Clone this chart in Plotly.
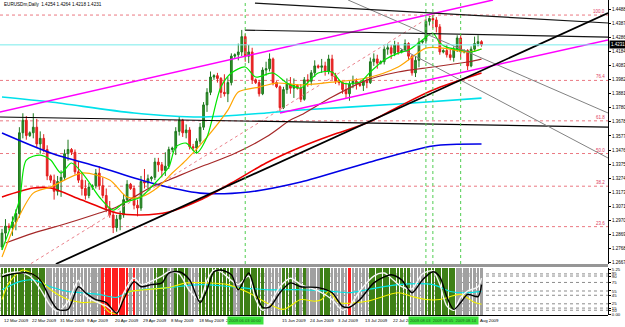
import plotly.graph_objects as go

# ---------------- data ----------------
bar_idx = list(range(139))

open_p = [1.2780, 1.2880, 1.2930, 1.2920, 1.2960, 1.3020, 1.3600, 1.3690, 1.3580, 1.3600,
          1.3640, 1.3520, 1.3560, 1.3480, 1.3290, 1.3260, 1.3180, 1.3250, 1.3280, 1.3450,
          1.3480, 1.3460, 1.3320, 1.3260, 1.3200, 1.3150, 1.3210, 1.3220, 1.3310, 1.3220,
          1.3150, 1.3060, 1.3010, 1.2920, 1.2980, 1.3010, 1.3120, 1.3230, 1.3200, 1.3080,
          1.3060, 1.3250, 1.3240, 1.3270, 1.3280, 1.3390, 1.3370, 1.3330, 1.3360, 1.3480,
          1.3490, 1.3610, 1.3690, 1.3600, 1.3620, 1.3500, 1.3490, 1.3540, 1.3640, 1.3800,
          1.3890, 1.4000, 1.4010, 1.3990, 1.3890, 1.3880, 1.3960, 1.4150, 1.4160, 1.4180,
          1.4290, 1.4150, 1.4180, 1.3980, 1.3960, 1.3880, 1.4050, 1.4060, 1.4130, 1.3960,
          1.3930, 1.3780, 1.3910, 1.3950, 1.3920, 1.3940, 1.3920, 1.3840, 1.3980, 1.3970,
          1.4030, 1.4080, 1.4070, 1.4080, 1.4040, 1.4130, 1.4010, 1.3970, 1.3960, 1.3910,
          1.3880, 1.3950, 1.3970, 1.3950, 1.3940, 1.3970, 1.3960, 1.4110, 1.4130, 1.4100,
          1.4110, 1.4200, 1.4210, 1.4170, 1.4230, 1.4180, 1.4190, 1.4240, 1.4150, 1.4030,
          1.4120, 1.4250, 1.4260, 1.4400, 1.4420, 1.4410, 1.4360, 1.4180, 1.4190, 1.4160,
          1.4140, 1.4200, 1.4280, 1.4180, 1.4190, 1.4080, 1.4200, 1.4240, 1.4254]
high_p = [1.2910, 1.2980, 1.2950, 1.3000, 1.3050, 1.3640, 1.3740, 1.3720, 1.3610, 1.3740,
          1.3700, 1.3610, 1.3590, 1.3510, 1.3300, 1.3300, 1.3290, 1.3330, 1.3480, 1.3550,
          1.3490, 1.3480, 1.3390, 1.3320, 1.3260, 1.3240, 1.3230, 1.3340, 1.3360, 1.3280,
          1.3200, 1.3110, 1.3030, 1.3010, 1.3040, 1.3160, 1.3260, 1.3240, 1.3220, 1.3120,
          1.3290, 1.3340, 1.3300, 1.3290, 1.3420, 1.3420, 1.3390, 1.3460, 1.3500, 1.3500,
          1.3640, 1.3720, 1.3700, 1.3660, 1.3640, 1.3520, 1.3560, 1.3670, 1.3820, 1.3920,
          1.4040, 1.4020, 1.4030, 1.4000, 1.4020, 1.4000, 1.4170, 1.4170, 1.4240, 1.4338,
          1.4310, 1.4230, 1.4210, 1.3990, 1.3980, 1.4070, 1.4110, 1.4170, 1.4140, 1.3970,
          1.3940, 1.3930, 1.3990, 1.4000, 1.3990, 1.3950, 1.3950, 1.4000, 1.4020, 1.4050,
          1.4120, 1.4090, 1.4130, 1.4110, 1.4160, 1.4160, 1.4030, 1.3980, 1.3970, 1.3960,
          1.3970, 1.4010, 1.3990, 1.3960, 1.3990, 1.4000, 1.4140, 1.4170, 1.4160, 1.4120,
          1.4220, 1.4240, 1.4230, 1.4260, 1.4250, 1.4200, 1.4270, 1.4250, 1.4160, 1.4150,
          1.4280, 1.4270, 1.4420, 1.4440, 1.4445, 1.4430, 1.4380, 1.4200, 1.4230, 1.4200,
          1.4220, 1.4300, 1.4300, 1.4200, 1.4200, 1.4220, 1.4290, 1.4300, 1.4264]
low_p = [1.2760, 1.2830, 1.2900, 1.2860, 1.2900, 1.2990, 1.3560, 1.3550, 1.3570, 1.3560,
         1.3490, 1.3450, 1.3460, 1.3260, 1.3240, 1.3120, 1.3150, 1.3140, 1.3260, 1.3400,
         1.3440, 1.3300, 1.3240, 1.3150, 1.3120, 1.3130, 1.3190, 1.3200, 1.3190, 1.3130,
         1.3030, 1.2990, 1.2880, 1.2890, 1.2900, 1.2990, 1.3100, 1.3190, 1.3050, 1.3000,
         1.3040, 1.3200, 1.3200, 1.3250, 1.3260, 1.3320, 1.3280, 1.3290, 1.3340, 1.3460,
         1.3440, 1.3580, 1.3570, 1.3560, 1.3480, 1.3470, 1.3450, 1.3520, 1.3620, 1.3750,
         1.3870, 1.3980, 1.3960, 1.3850, 1.3860, 1.3820, 1.3940, 1.4130, 1.4120, 1.4150,
         1.4110, 1.4100, 1.3950, 1.3950, 1.3860, 1.3870, 1.4010, 1.4040, 1.3940, 1.3920,
         1.3750, 1.3770, 1.3880, 1.3880, 1.3850, 1.3910, 1.3820, 1.3830, 1.3930, 1.3940,
         1.4000, 1.4060, 1.4030, 1.4010, 1.4020, 1.3980, 1.3950, 1.3940, 1.3880, 1.3850,
         1.3830, 1.3920, 1.3910, 1.3930, 1.3900, 1.3920, 1.3950, 1.4080, 1.4060, 1.4090,
         1.4090, 1.4160, 1.4130, 1.4150, 1.4160, 1.4170, 1.4180, 1.4120, 1.4010, 1.4000,
         1.4070, 1.4240, 1.4240, 1.4370, 1.4350, 1.4320, 1.4160, 1.4170, 1.4140, 1.4120,
         1.4110, 1.4180, 1.4130, 1.4170, 1.4050, 1.4070, 1.4180, 1.4220, 1.4218]
close_p = [1.2880, 1.2930, 1.2920, 1.2960, 1.3020, 1.3600, 1.3690, 1.3580, 1.3600, 1.3640,
           1.3520, 1.3560, 1.3480, 1.3290, 1.3260, 1.3180, 1.3250, 1.3280, 1.3450, 1.3480,
           1.3460, 1.3320, 1.3260, 1.3200, 1.3150, 1.3210, 1.3220, 1.3310, 1.3220, 1.3150,
           1.3060, 1.3010, 1.2920, 1.2980, 1.3010, 1.3120, 1.3230, 1.3200, 1.3080, 1.3060,
           1.3250, 1.3240, 1.3270, 1.3280, 1.3390, 1.3370, 1.3330, 1.3360, 1.3480, 1.3490,
           1.3610, 1.3690, 1.3600, 1.3620, 1.3500, 1.3490, 1.3540, 1.3640, 1.3800, 1.3890,
           1.4000, 1.4010, 1.3990, 1.3890, 1.3880, 1.3960, 1.4150, 1.4160, 1.4180, 1.4290,
           1.4150, 1.4180, 1.3980, 1.3960, 1.3880, 1.4050, 1.4060, 1.4130, 1.3960, 1.3930,
           1.3780, 1.3910, 1.3950, 1.3920, 1.3940, 1.3920, 1.3840, 1.3980, 1.3970, 1.4030,
           1.4080, 1.4070, 1.4080, 1.4040, 1.4130, 1.4010, 1.3970, 1.3960, 1.3910, 1.3880,
           1.3950, 1.3970, 1.3950, 1.3940, 1.3970, 1.3960, 1.4110, 1.4130, 1.4100, 1.4110,
           1.4200, 1.4210, 1.4170, 1.4230, 1.4180, 1.4190, 1.4240, 1.4150, 1.4030, 1.4120,
           1.4250, 1.4260, 1.4400, 1.4420, 1.4410, 1.4360, 1.4180, 1.4190, 1.4160, 1.4140,
           1.4200, 1.4280, 1.4180, 1.4190, 1.4080, 1.4200, 1.4240, 1.4254, 1.4231]

# moving averages (sampled along the curves)
ma_green_idx = [0, 5, 7, 11, 14, 17, 20, 24, 28, 32, 35, 40, 43, 48, 50, 53, 56, 59, 63, 66,
                70, 73, 78, 82, 86, 91, 95, 98, 103, 106, 110, 114, 117, 121, 124, 126, 128, 132, 135, 138]
ma_green_val = [1.2758, 1.3117, 1.3404, 1.3440, 1.3404, 1.3311, 1.3383, 1.3282, 1.3139, 1.3045,
                1.3096, 1.3139, 1.3211, 1.3354, 1.3498, 1.3526, 1.3455, 1.3569, 1.3928, 1.4029,
                1.4072, 1.4000, 1.4029, 1.3957, 1.3921, 1.4029, 1.4036, 1.3957, 1.3964, 1.4036,
                1.4122, 1.4172, 1.4194, 1.4266, 1.4316, 1.4244, 1.4215, 1.4194, 1.4179, 1.4201]
ma_orange_idx = [0, 4, 9, 14, 23, 31, 36, 40, 45, 49, 53, 59, 65, 68, 74, 79, 86, 95, 105, 114, 122, 127, 134, 138]
ma_orange_val = [1.2708, 1.2952, 1.3167, 1.3211, 1.3311, 1.3261, 1.3139, 1.3139, 1.3211, 1.3311,
                 1.3404, 1.3569, 1.3763, 1.3892, 1.3928, 1.3957, 1.3943, 1.3964, 1.3993, 1.4072,
                 1.4208, 1.4208, 1.4179, 1.4201]
ma_brown_idx = [1, 9, 19, 28, 33, 43, 48, 57, 66, 76, 83, 86, 95, 105, 114, 124, 134, 138]
ma_brown_val = [1.2809, 1.2880, 1.2952, 1.3024, 1.3067, 1.3211, 1.3261, 1.3354, 1.3440, 1.3569,
                1.3691, 1.3727, 1.3857, 1.3978, 1.4036, 1.4072, 1.4108, 1.4129]
ma_red_idx = [0, 9, 14, 23, 33, 40, 48, 57, 66, 76, 86, 95, 105, 114, 124, 138]
ma_red_val = [1.3139, 1.3203, 1.3203, 1.3117, 1.3024, 1.3010, 1.3031, 1.3117, 1.3239, 1.3383,
              1.3498, 1.3584, 1.3670, 1.3785, 1.3907, 1.4029]
ma_blue_idx = [0, 14, 28, 43, 57, 71, 86, 105, 124, 138]
ma_blue_val = [1.3598, 1.3455, 1.3354, 1.3239, 1.3167, 1.3175, 1.3246, 1.3383, 1.3505, 1.3519]
ma_cyan_idx = [0, 14, 38, 57, 76, 86, 114, 138]
ma_cyan_val = [1.3857, 1.3821, 1.3742, 1.3713, 1.3742, 1.3763, 1.3806, 1.3849]

# hand-drawn trend lines: (bar0, price0, bar1, price1)
trend_top = (72.8, 1.4531, 174.4, 1.4388)
trend_mid = (69.9, 1.4337, 174.4, 1.4287)
trend_support = (15.5, 1.2658, 174.4, 1.4459)
trend_gray1 = (99.6, 1.4553, 174.4, 1.3742)
trend_gray2 = (114.5, 1.4208, 174.4, 1.3419)
chan_upper = (-0.6, 1.3749, 141.3, 1.4553)
chan_lower = (80.0, 1.3742, 174.4, 1.4266)
flat_line = (-0.6, 1.3713, 174.4, 1.3641)

# Fibonacci retracement
fib_low_idx, fib_low = -4.9, 1.2457
fib_high_idx, fib_high = 124, 1.4445
fib_ratios = [0.236, 0.382, 0.5, 0.618, 0.764, 1.0]
fib_texts = ["23.6", "38.2", "50.0", "61.8", "76.4", "100.0"]

bid_price = 1.4231
vline_idx = [70, 122, 124, 132]
vbox_idx = [70, 127.05]
vbox_text = ["2009.06.03 00:00", "2009.08.03  2009.08.05  2009.08.14"]

price_tick_vals = [1.4488, 1.4387, 1.4286, 1.4184, 1.4083, 1.3982, 1.3881, 1.3780, 1.3678, 1.3577,
                   1.3476, 1.3375, 1.3274, 1.3173, 1.3071, 1.2970, 1.2869, 1.2768, 1.2667]
date_tick_idx = [0, 8, 16, 24, 32, 40, 48, 56, 64, 80, 88, 96, 104, 112, 137]
date_tick_text = ["12 Mar 2009", "22 Mar 2009", "31 Mar 2009", "9 Apr 2009", "20 Apr 2009",
                  "29 Apr 2009", "8 May 2009", "18 May 2009", "27 May 2009",
                  "15 Jun 2009", "24 Jun 2009", "3 Jul 2009", "13 Jul 2009", "22 Jul 2009",
                  "Aug 2009"]

# oscillator panel
stripe_code = ("ggggggggggggg" "ssssssssssssssss" "rrrrrrrr" "s" "r" "sssss" "gggg" "ss" "gggg"
               "sss" "gggggggggg" "ss" "ggggggg" "sssss" "ggg" "s" "g" "s" "g" "ssss" "ggg"
               "sssss" "r" "sssss" "gggggggggggg" "ssss" "ggggggggg" "ssssssss")
osc_idx = [0, 2, 5, 8, 11, 14, 16, 19, 22, 24, 27, 30, 33, 35, 38, 40, 43, 46, 48, 51, 54, 57, 59,
           61, 63, 66, 68, 71, 73, 75, 77, 80, 83, 86, 91, 95, 98, 100, 103, 107, 110, 112, 115,
           118, 121, 124, 126, 128, 130, 132, 134, 137, 138]
osc_black = [88, 93, 97, 97, 81, 35, 12, 12, 65, 51, 35, 28, 3, 35, 77, 65, 70, 74, 97, 100, 81,
             28, 58, 100, 104, 93, 58, 97, 51, 17, 17, 51, 74, 65, 63, 51, 19, 17, 35, 74, 88, 93,
             81, 51, 81, 100, 88, 42, 12, 28, 47, 42, 70]
osc_white = [92, 97, 99, 90, 60, 20, 8, 30, 80, 45, 30, 20, 5, 50, 85, 70, 78, 90, 100, 95, 55,
             35, 80, 104, 100, 80, 70, 90, 35, 10, 25, 65, 85, 70, 55, 35, 10, 20, 55, 90, 97, 85,
             65, 60, 95, 102, 70, 20, 10, 40, 55, 65, 85]
osc_cyan_idx = [0, 5, 9, 14, 19, 23, 28, 33, 36, 40, 48, 57, 66, 76, 86, 95, 100, 105, 114, 124, 129, 134, 138]
osc_cyan = [58, 77, 81, 65, 54, 51, 47, 40, 51, 58, 63, 70, 65, 58, 58, 54, 51, 58, 70, 70, 54, 51, 54]
osc_yellow_idx = [0, 2, 6, 10, 14, 19, 23, 28, 31, 33, 36, 41, 48, 53, 59, 65, 71, 76, 81, 86, 90,
                  92, 94, 97, 105, 114, 118, 122, 126, 132, 136, 138]
osc_yellow = [35, 74, 104, 88, 58, 35, 28, 28, 5, 3, 51, 58, 63, 74, 74, 70, 51, 28, 12, 35, 31,
              35, 54, 28, 31, 51, 42, 35, 35, 47, 28, 24]
osc_levels = [95, 90, 75, 55, 45, 25, 15, 10]
osc_tick_vals = [105.25, 95, 90, 75, 55, 45, 25, 15, 10, 0]
osc_tick_text = ["5.25", "95", "90", "75", "55", "45", "25", "15", "10", "0.00"]

# ---------------- layout helpers ----------------
W, H = 625, 327
XD = 608 / W
def py(pix):
    return 1 - pix / H

MAIN_DOM = [py(264), 1]
OSC_DOM = [py(315), py(267.5)]
Y_RANGE = [1.2658, 1.4553]
OSC_RANGE = [-1.2, 110]
FONT = "Liberation Sans, Arial, sans-serif"

fig = go.Figure()

# oscillator background stripes
stripe_colors = {"g": "rgb(62,128,22)", "s": "rgb(160,160,160)", "r": "rgb(255,30,30)"}
fig.add_trace(go.Bar(
    x=bar_idx, y=[OSC_RANGE[1] - OSC_RANGE[0]] * len(bar_idx), base=OSC_RANGE[0],
    marker=dict(color=[stripe_colors[c] for c in stripe_code], line=dict(width=0)),
    width=0.78, xaxis="x", yaxis="y2", hoverinfo="skip"))

for xs, ys, col, w in [(osc_cyan_idx, osc_cyan, "rgb(0,230,230)", 1.1),
                       (osc_yellow_idx, osc_yellow, "rgb(240,240,0)", 1.1),
                       (osc_idx, osc_white, "rgb(245,245,245)", 1.4),
                       (osc_idx, osc_black, "rgb(0,0,0)", 1.4)]:
    fig.add_trace(go.Scatter(x=xs, y=ys, mode="lines", line=dict(color=col, width=w, shape="spline", smoothing=0.8),
                             xaxis="x", yaxis="y2", hoverinfo="skip"))

# Fibonacci diagonal
fig.add_trace(go.Scatter(x=[fib_low_idx, fib_high_idx], y=[fib_low, fib_high], mode="lines",
                         line=dict(color="rgb(235,130,140)", width=1, dash="dot"), hoverinfo="skip"))

# candles
fig.add_trace(go.Candlestick(
    x=bar_idx, open=open_p, high=high_p, low=low_p, close=close_p,
    increasing=dict(line=dict(color="rgb(30,120,30)", width=1), fillcolor="rgb(50,150,40)"),
    decreasing=dict(line=dict(color="rgb(225,30,30)", width=1), fillcolor="rgb(240,40,40)"),
    whiskerwidth=0, hoverinfo="skip"))

# moving averages
for xs, ys, col, w in [(ma_cyan_idx, ma_cyan_val, "rgb(0,225,235)", 1.6),
                       (ma_blue_idx, ma_blue_val, "rgb(0,0,230)", 1.6),
                       (ma_red_idx, ma_red_val, "rgb(235,0,0)", 1.6),
                       (ma_brown_idx, ma_brown_val, "rgb(165,40,40)", 1.2),
                       (ma_orange_idx, ma_orange_val, "rgb(255,165,0)", 1.2),
                       (ma_green_idx, ma_green_val, "rgb(0,230,0)", 1.2)]:
    fig.add_trace(go.Scatter(x=xs, y=ys, mode="lines", line=dict(color=col, width=w, shape="spline", smoothing=0.8),
                             hoverinfo="skip"))

# trend lines
for seg, col, w in [(flat_line, "rgb(0,0,0)", 1.2),
                    (trend_gray1, "rgb(130,130,130)", 1),
                    (trend_gray2, "rgb(130,130,130)", 1),
                    (chan_upper, "rgb(255,0,255)", 1.5),
                    (chan_lower, "rgb(255,0,255)", 1.5),
                    (trend_top, "rgb(20,20,20)", 1.2),
                    (trend_mid, "rgb(20,20,20)", 1.2),
                    (trend_support, "rgb(0,0,0)", 1.8)]:
    fig.add_trace(go.Scatter(x=[seg[0], seg[2]], y=[seg[1], seg[3]], mode="lines",
                             line=dict(color=col, width=w), hoverinfo="skip"))

shapes = []
annotations = []

# fib levels
for r, t in zip(fib_ratios, fib_texts):
    lvl = fib_low + r * (fib_high - fib_low)
    shapes.append(dict(type="line", xref="paper", x0=0, x1=XD, yref="y", y0=lvl, y1=lvl,
                       line=dict(color="rgb(235,120,130)", width=1, dash="dot"), layer="below"))
    annotations.append(dict(x=XD - 0.002, xref="paper", y=lvl, yref="y", text=t, showarrow=False,
                            xanchor="right", yanchor="bottom", yshift=-1,
                            font=dict(size=4.5, color="rgb(220,60,100)", family=FONT)))

# bid line
shapes.append(dict(type="line", xref="paper", x0=0, x1=XD, yref="y", y0=bid_price, y1=bid_price,
                   line=dict(color="rgb(120,235,235)", width=1)))

# vertical markers
for vx in vline_idx:
    shapes.append(dict(type="line", xref="x", x0=vx, x1=vx, yref="paper", y0=MAIN_DOM[0], y1=1,
                       line=dict(color="rgb(80,205,80)", width=1, dash="dot")))

# oscillator levels
for lv in osc_levels:
    shapes.append(dict(type="line", xref="paper", x0=0, x1=XD, yref="y2", y0=lv, y1=lv,
                       line=dict(color="rgb(110,110,110)", width=0.8, dash="dot"), layer="below"))

# panel separator and bottom line
shapes.append(dict(type="rect", xref="paper", x0=0, x1=XD, yref="paper", y0=py(267), y1=py(264),
                   fillcolor="rgb(150,150,150)", line=dict(width=0)))
shapes.append(dict(type="line", xref="paper", x0=0, x1=XD, yref="paper", y0=py(315.5), y1=py(315.5),
                   line=dict(color="black", width=1)))

# header
annotations.append(dict(x=0.003, xref="paper", y=py(5), yref="paper",
                        text="EURUSDm,Daily  1.4254 1.4264 1.4218 1.4231", showarrow=False,
                        xanchor="left", yanchor="middle", font=dict(size=4.6, color="black", family=FONT)))

# current price box
annotations.append(dict(x=XD, xref="paper", y=bid_price, yref="y", text="1.4231", showarrow=False,
                        xanchor="left", yanchor="middle", xshift=1, bgcolor="black", borderpad=1,
                        font=dict(size=4.5, color="white", family=FONT)))

# date labels
for dx, dt in zip(date_tick_idx, date_tick_text):
    annotations.append(dict(x=dx, xref="x", y=py(320.5), yref="paper", text=dt, showarrow=False,
                            xanchor="left", yanchor="middle", font=dict(size=4.3, color="black", family=FONT)))
# vertical line date boxes
for vx, vt in zip(vbox_idx, vbox_text):
    annotations.append(dict(x=vx, xref="x", y=py(320.5), yref="paper", text=vt, showarrow=False,
                            xanchor="center", yanchor="middle", bgcolor="rgb(60,225,60)", borderpad=1,
                            font=dict(size=4.1, color="rgb(30,90,30)", family=FONT)))

fig.update_layout(
    width=W, height=H, margin=dict(l=0, r=0, t=0, b=0),
    paper_bgcolor="white", plot_bgcolor="white", showlegend=False, bargap=0,
    xaxis=dict(domain=[0, XD], range=[-0.576, 174.4], anchor="y2", showticklabels=False,
               showgrid=False, zeroline=False, showline=False, rangeslider=dict(visible=False),
               fixedrange=True),
    yaxis=dict(domain=MAIN_DOM, range=Y_RANGE, side="right", anchor="x", tickvals=price_tick_vals,
               ticktext=[f"{v:.4f}" for v in price_tick_vals], ticks="outside", ticklen=2,
               tickcolor="black", tickfont=dict(size=4.5, color="black", family=FONT),
               showgrid=False, zeroline=False, showline=True, linecolor="black", linewidth=1,
               automargin=False, fixedrange=True),
    yaxis2=dict(domain=OSC_DOM, range=OSC_RANGE, side="right", anchor="x", tickvals=osc_tick_vals,
                ticktext=osc_tick_text, ticks="outside", ticklen=2, tickcolor="black",
                tickfont=dict(size=4.3, color="black", family=FONT),
                showgrid=False, zeroline=False, showline=True, linecolor="black", linewidth=1,
                automargin=False, fixedrange=True),
    shapes=shapes, annotations=annotations,
)

fig.write_html("out.html")
